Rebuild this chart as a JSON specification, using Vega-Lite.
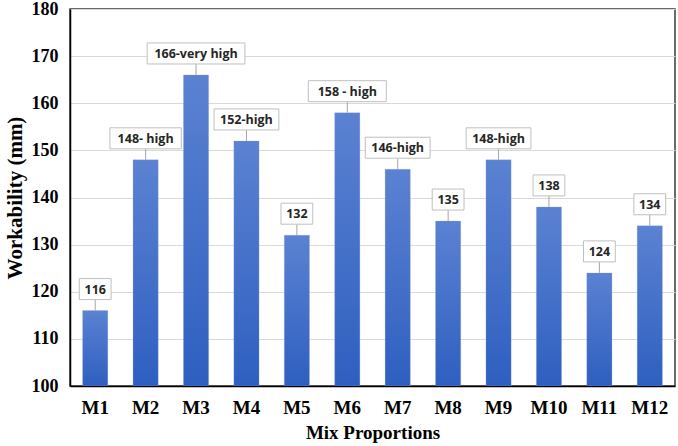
{
  "$schema": "https://vega.github.io/schema/vega-lite/v6.json",
  "width": 605,
  "height": 377,
  "autosize": "none",
  "padding": {"left": 70, "top": 9, "right": 3, "bottom": 60},
  "background": "white",
  "config": {
    "view": {"stroke": "#3a3a3a", "strokeWidth": 1.5},
    "axis": {"labelFont": "Liberation Serif", "titleFont": "Liberation Serif", "labelFontWeight": "bold", "titleFontWeight": "bold", "labelColor": "black", "titleColor": "black", "labelFontSize": 18, "titleFontSize": 19, "labelOverlap": false}
  },
  "data": {
    "values": [
      {"Mix": "M1", "value": 116, "label": "116"},
      {"Mix": "M2", "value": 148, "label": "148- high"},
      {"Mix": "M3", "value": 166, "label": "166-very high"},
      {"Mix": "M4", "value": 152, "label": "152-high"},
      {"Mix": "M5", "value": 132, "label": "132"},
      {"Mix": "M6", "value": 158, "label": "158 - high"},
      {"Mix": "M7", "value": 146, "label": "146-high"},
      {"Mix": "M8", "value": 135, "label": "135"},
      {"Mix": "M9", "value": 148, "label": "148-high"},
      {"Mix": "M10", "value": 138, "label": "138"},
      {"Mix": "M11", "value": 124, "label": "124"},
      {"Mix": "M12", "value": 134, "label": "134"}
    ]
  },
  "encoding": {
    "x": {
      "field": "Mix", "type": "nominal", "sort": null,
      "scale": {"paddingInner": 0.5, "paddingOuter": 0.25},
      "axis": {"title": "Mix Proportions", "labelAngle": 0, "ticks": false, "domainColor": "black", "domainWidth": 1.5, "labelPadding": 12, "labelFontSize": 19, "titlePadding": 6}
    },
    "y": {
      "field": "value", "type": "quantitative",
      "scale": {"domain": [100, 180], "nice": false, "zero": false},
      "axis": {"title": "Workability (mm)", "values": [100,110,120,130,140,150,160,170,180], "ticks": false, "labelFlush": false, "domainColor": "black", "domainWidth": 1.5, "gridColor": "#d9d9d9", "labelPadding": 12, "titleFontSize": 21, "titlePadding": 6}
    }
  },
  "layer": [
    {
      "mark": {"type": "bar", "clip": true, "color": {"gradient": "linear", "x1": 0, "y1": 0, "x2": 0, "y2": 1, "stops": [{"offset": 0, "color": "#5b82d2"}, {"offset": 1, "color": "#2e5fc0"}]}, "stroke": "#9aaad0", "strokeWidth": 0.5, "strokeOpacity": 0.5},
      "encoding": {"y2": {"datum": 100}}
    },
    {
      "mark": {"type": "rule", "color": "#a6a6a6", "strokeWidth": 1, "y2Offset": -11},
      "encoding": {"y2": {"field": "value"}}
    },
    {
      "mark": {"type": "rect", "fill": "white", "stroke": "#bfbfbf", "strokeWidth": 1, "width": {"expr": "length(datum.label)*6.6+12"}, "height": 21, "yOffset": -21.5},
      "encoding": {}
    },
    {
      "mark": {"type": "text", "font": "Open Sans", "fontWeight": "bold", "fontSize": 12.5, "color": "#262626", "baseline": "middle", "yOffset": -21},
      "encoding": {"text": {"field": "label"}}
    }
  ]
}
